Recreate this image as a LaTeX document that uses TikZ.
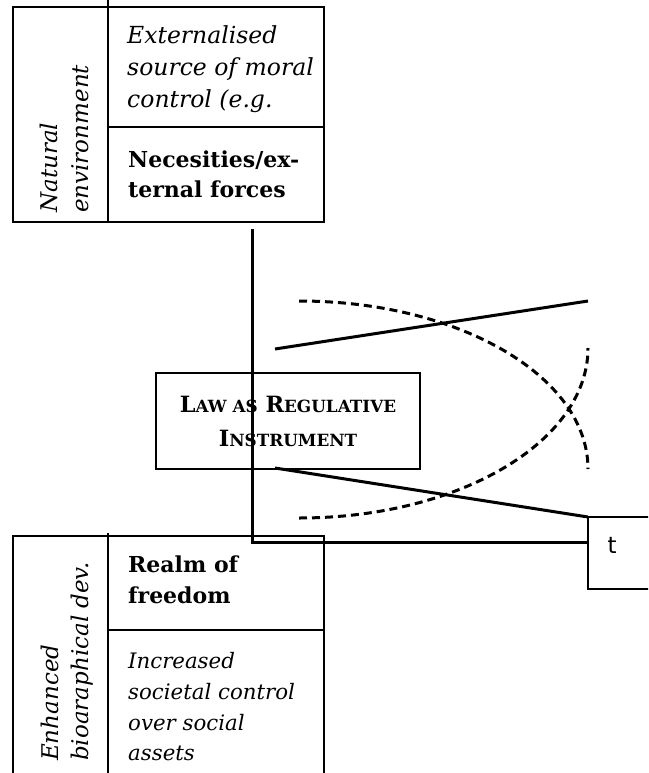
\documentclass[tikz,border=0pt]{standalone}
\usepackage{fontspec}
\setmainfont{DejaVu Serif}
\newfontfamily\tsans{DejaVu Sans}
\newcommand{\myBigC}[1]{{\fontsize{22.4}{34}\selectfont #1}}
\newcommand{\mySmallC}[1]{{\fontsize{16.8}{34}\selectfont #1}}
\begin{document}
\begin{tikzpicture}[x=1pt,y=-1pt,
  frame/.style={line width=2.9pt},
  itxt/.style={anchor=base west, inner sep=0pt, font=\fontsize{23.5}{31}\selectfont\itshape},
  ibtxt/.style={anchor=base west, inner sep=0pt, font=\fontsize{21.3}{31}\selectfont\itshape},
  btxt/.style={anchor=base west, inner sep=0pt, font=\fontsize{22}{31}\selectfont\bfseries},
  rtxt/.style={anchor=base west, inner sep=0pt, rotate=90, font=\fontsize{23}{31}\selectfont\itshape},
  lawbox/.style={draw, line width=2.6pt, minimum width=264pt, minimum height=96pt, inner sep=0pt, align=center, font=\fontsize{22.4}{34}\selectfont\bfseries},
  conn/.style={line width=3pt},
  dashcurve/.style={line width=3pt, dash pattern=on 8pt off 5pt}]
\clip (0,0) rectangle (648,773);
% top block
\draw[frame] (13,7) rectangle (324,222);
\draw[frame] (108,0) -- (108,222);
\draw[frame] (108,127) -- (324,127);
\node[rtxt] (nat1) at (57,213) {Natural};
\node[rtxt] (nat2) at (88,213) {environment};
\node[itxt] (e1) at (127,44) {Externalised};
\node[itxt] (e2) at (127,76) {source of moral};
\node[itxt] (e3) at (127,107) {control (e.g.};
\node[btxt] (n1) at (128,167) {Necesities/ex-};
\node[btxt] (n2) at (128,197) {ternal forces};
% bottom block
\draw[frame] (13,780) -- (13,536) -- (324,536) -- (324,780);
\draw[frame] (108,533) -- (108,780);
\draw[frame] (108,630) -- (324,630);
\node[rtxt] (enh1) at (58,761) {Enhanced};
\node[rtxt] (enh2) at (88,761) {bioaraphical dev.};
\node[btxt] (r1) at (128,572) {Realm of};
\node[btxt] (r2) at (128,603) {freedom};
\node[ibtxt] (i1) at (128,668) {Increased};
\node[ibtxt] (i2) at (128,699) {societal control};
\node[ibtxt] (i3) at (128,730) {over social};
\node[ibtxt] (i4) at (128,760) {assets};
% law box
\node[lawbox] (law) at (288,421) {\myBigC{L}\mySmallC{AW AS} \myBigC{R}\mySmallC{EGULATIVE}\\\myBigC{I}\mySmallC{NSTRUMENT}};
% t box
\draw[frame] (660,517) -- (588,517) -- (588,589) -- (660,589);
\coordinate (tnw) at (588,517);
\coordinate (tw) at (588,542);
\node[inner sep=0pt, anchor=base, font=\tsans\fontsize{23}{24}\selectfont] (t) at (612,553) {t};
% connector
\coordinate (cstart) at (252,229);
\draw[conn] (cstart) |- (tw);
% solid lines
\coordinate (s1a) at (275,349);
\coordinate (s1b) at (588,301);
\coordinate (s2a) at (275,468);
\draw[conn] (s1a) -- (s1b);
\draw[conn] (s2a) -- (tnw);
% dashed arcs
\draw[dashcurve] (299,301) arc[start angle=-90, end angle=0, x radius=289, y radius=168];
\draw[dashcurve] (299,518) arc[start angle=90, end angle=0, x radius=289, y radius=170];
\end{tikzpicture}
\end{document}
